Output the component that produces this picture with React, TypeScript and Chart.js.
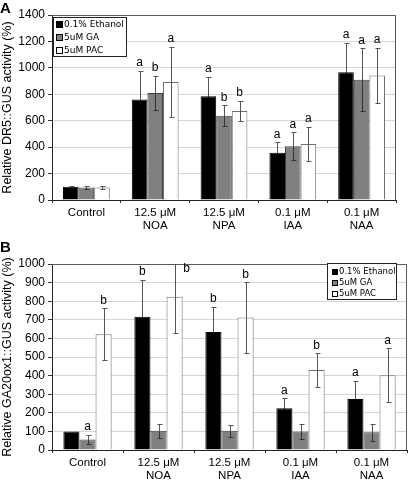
import React, { useEffect, useRef } from "react";
import { Chart, registerables } from "chart.js";
Chart.register(...registerables);

const categories: (string | string[])[] = [
  "Control",
  ["12.5 μM", "NOA"],
  ["12.5 μM", "NPA"],
  ["0.1 μM", "IAA"],
  ["0.1 μM", "NAA"],
];
const seriesNames = ["0.1% Ethanol", "5uM GA", "5uM PAC"];
const seriesColors = ["#000000", "#808080", "#ffffff"];
const seriesBorders = ["#000000", "#404040", "#707070"];
const innerErrColors = ["#000000", "#333333", "#555555"];

// Panel A: DR5::GUS
const aEthanol = [100, 760, 785, 358, 966];
const aEthanolErr = [6, 220, 146, 78, 224];
const aGA = [95, 810, 637, 406, 910];
const aGAErr = [9, 130, 80, 107, 237];
const aPAC = [95, 893, 674, 423, 942];
const aPACErr = [9, 268, 76, 129, 207];
const aLetters = [
  ["", "a", "a", "a", "a"],
  ["", "b", "b", "a", "a"],
  ["", "a", "b", "a", "a"],
];
const aTitle = "Relative DR5::GUS activity (%)";

// Panel B: GA20ox1::GUS
const bEthanol = [100, 716, 634, 225, 274];
const bEthanolErr = [0, 197, 136, 52, 97];
const bGA = [57, 103, 103, 100, 95];
const bGAErr = [25, 38, 33, 39, 44];
const bPAC = [622, 824, 712, 430, 402];
const bPACErr = [140, 195, 190, 90, 145];
const bLetters = [
  ["", "b", "b", "a", "a"],
  ["a", "", "", "", ""],
  ["b", "b", "b", "b", "a"],
];
const bTitle = "Relative GA20ox1::GUS activity (%)";

const FONT = "'Liberation Sans', Arial, Helvetica, sans-serif";

const decorPlugin = {
  id: "decor",
  beforeDatasetsDraw(chart: any) {
    const { ctx, chartArea: ca } = chart;
    ctx.save();
    ctx.strokeStyle = "#5a5a5a";
    ctx.lineWidth = 1;
    ctx.beginPath();
    const r = Math.round(ca.right) - 0.5;
    const t = Math.round(ca.top) + 0.5;
    ctx.moveTo(ca.left, t);
    ctx.lineTo(r, t);
    ctx.lineTo(r, ca.bottom);
    ctx.stroke();
    ctx.restore();
  },
  afterDatasetsDraw(chart: any) {
    const { ctx, chartArea: ca } = chart;
    const yScale = chart.scales.y;
    const max = yScale.max;
    ctx.save();
    ctx.beginPath();
    ctx.rect(ca.left, ca.top, ca.right - ca.left, ca.bottom - ca.top);
    ctx.clip();
    chart.data.datasets.forEach((ds: any, i: number) => {
      const meta = chart.getDatasetMeta(i);
      meta.data.forEach((el: any, j: number) => {
        const v = ds.data[j];
        const e = ds.errors[j];
        if (!e) return;
        const x = Math.round(el.x) + 0.5;
        const yt = Math.round(yScale.getPixelForValue(v + e)) + 0.5;
        const ym = Math.round(yScale.getPixelForValue(v)) + 0.5;
        const yb = Math.round(yScale.getPixelForValue(v - e)) + 0.5;
        ctx.lineWidth = 1;
        ctx.strokeStyle = "#555555";
        ctx.beginPath();
        ctx.moveTo(x, yt);
        ctx.lineTo(x, ym);
        ctx.moveTo(x - 2, yt);
        ctx.lineTo(x + 3, yt);
        ctx.stroke();
        ctx.strokeStyle = innerErrColors[i];
        ctx.beginPath();
        ctx.moveTo(x, ym);
        ctx.lineTo(x, yb);
        ctx.moveTo(x - 2, yb);
        ctx.lineTo(x + 3, yb);
        ctx.stroke();
      });
    });
    ctx.restore();
    ctx.save();
    ctx.fillStyle = "#000";
    ctx.font = `12px ${FONT}`;
    ctx.textAlign = "center";
    ctx.textBaseline = "bottom";
    chart.data.datasets.forEach((ds: any, i: number) => {
      const meta = chart.getDatasetMeta(i);
      meta.data.forEach((el: any, j: number) => {
        const letter = ds.letters[j];
        if (!letter) return;
        const top = ds.data[j] + ds.errors[j];
        if (top > max) {
          ctx.fillText(letter, el.x + 12, ca.top + 11);
        } else {
          ctx.fillText(letter, el.x, yScale.getPixelForValue(top) - 2);
        }
      });
    });
    ctx.restore();
  },
  afterDraw(chart: any, _args: any, opts: any) {
    const { ctx } = chart;
    const lg = opts.legend;
    ctx.save();
    ctx.fillStyle = "#ffffff";
    ctx.fillRect(lg.x, lg.y, lg.w, lg.h);
    ctx.strokeStyle = "#222";
    ctx.lineWidth = 1;
    ctx.strokeRect(lg.x + 0.5, lg.y + 0.5, lg.w - 1, lg.h - 1);
    ctx.font = `${lg.fontSize}px 'DejaVu Sans', sans-serif`;
    ctx.textBaseline = "middle";
    ctx.textAlign = "left";
    seriesNames.forEach((name, i) => {
      const cy = lg.y + lg.firstRow + i * lg.rowH;
      ctx.fillStyle = seriesColors[i];
      ctx.fillRect(lg.x + lg.sqX, Math.round(cy - lg.sq / 2), lg.sq, lg.sq);
      ctx.strokeStyle = "#000";
      ctx.strokeRect(lg.x + lg.sqX + 0.5, Math.round(cy - lg.sq / 2) + 0.5, lg.sq - 1, lg.sq - 1);
      ctx.fillStyle = "#000";
      ctx.fillText(name, lg.x + lg.textX, cy + 0.5);
    });
    ctx.font = `bold 15px ${FONT}`;
    ctx.textBaseline = "top";
    ctx.fillStyle = "#000";
    ctx.fillText(opts.panel, 0, opts.panelY);
    ctx.restore();
  },
};

function makeConfig(
  ethanol: number[], ethErr: number[],
  ga: number[], gaErr: number[],
  pac: number[], pacErr: number[],
  letters: string[][], title: string,
  yMax: number, step: number,
  padTop: number, padRight: number, xHeight: number,
  legend: any, panel: string, panelY: number
): any {
  const vals = [ethanol, ga, pac];
  const errs = [ethErr, gaErr, pacErr];
  return {
    type: "bar",
    data: {
      labels: categories,
      datasets: vals.map((d, i) => ({
        label: seriesNames[i],
        data: d,
        errors: errs[i],
        letters: letters[i],
        backgroundColor: seriesColors[i],
        borderColor: seriesBorders[i],
        borderWidth: 1,
        categoryPercentage: 0.68,
        barPercentage: 1,
      })),
    },
    options: {
      responsive: false,
      animation: false,
      events: [],
      layout: { padding: { top: padTop, right: padRight, left: 0, bottom: 0 } },
      plugins: {
        legend: { display: false },
        tooltip: { enabled: false },
        decor: { legend, panel, panelY },
      },
      scales: {
        x: {
          offset: true,
          grid: {
            offset: true,
            drawOnChartArea: false,
            drawTicks: true,
            tickLength: 3,
            color: "#333",
          },
          border: { display: true, color: "#222", width: 1 },
          ticks: {
            color: "#000",
            font: { family: FONT, size: 11.5, lineHeight: 1.15 },
            padding: 3,
            maxRotation: 0,
            autoSkip: false,
          },
          afterFit: (s: any) => { s.height = xHeight; },
        },
        y: {
          min: 0,
          max: yMax,
          ticks: {
            stepSize: step,
            color: "#000",
            font: { family: FONT, size: 12 },
            padding: 3,
            callback: (v: any) => String(v),
          },
          grid: {
            color: "#d6d6d6",
            tickColor: "#333",
            tickLength: 4,
            drawTicks: true,
          },
          border: { display: true, color: "#222", width: 1 },
          title: {
            display: true,
            text: title,
            color: "#000",
            font: { family: FONT, size: 12.5 },
            padding: { top: 0, bottom: 0 },
          },
          afterFit: (s: any) => { s.width = 52; },
        },
      },
    },
    plugins: [decorPlugin],
  };
}

function Panel({ top, config }: { top: number; config: () => any }) {
  const ref = useRef<HTMLCanvasElement | null>(null);
  useEffect(() => {
    if (!ref.current) return;
    const chart = new Chart(ref.current, config());
    return () => chart.destroy();
  }, []);
  return (
    <canvas
      ref={ref}
      width={408}
      height={240}
      style={{ position: "absolute", left: 0, top, width: 408, height: 240, display: "block" }}
    />
  );
}

export default function App() {
  const cfgA = () =>
    makeConfig(aEthanol, aEthanolErr, aGA, aGAErr, aPAC, aPACErr, aLetters, aTitle,
      1400, 200, 15, 12, 40,
      { x: 53, y: 17, w: 74, h: 40, firstRow: 7, rowH: 13.3, sq: 7, sqX: 3, textX: 11, fontSize: 9 },
      "A", 1);
  const cfgB = () =>
    makeConfig(bEthanol, bEthanolErr, bGA, bGAErr, bPAC, bPACErr, bLetters, bTitle,
      1000, 100, 24, 1, 30,
      { x: 327, y: 23, w: 70, h: 37, firstRow: 8.5, rowH: 11, sq: 6, sqX: 5, textX: 12, fontSize: 8.5 },
      "B", 0);
  return (
    <div style={{ position: "fixed", left: 0, top: 0, width: 408, height: 480, background: "#fff" }}>
      <Panel top={0} config={cfgA} />
      <Panel top={240} config={cfgB} />
    </div>
  );
}
